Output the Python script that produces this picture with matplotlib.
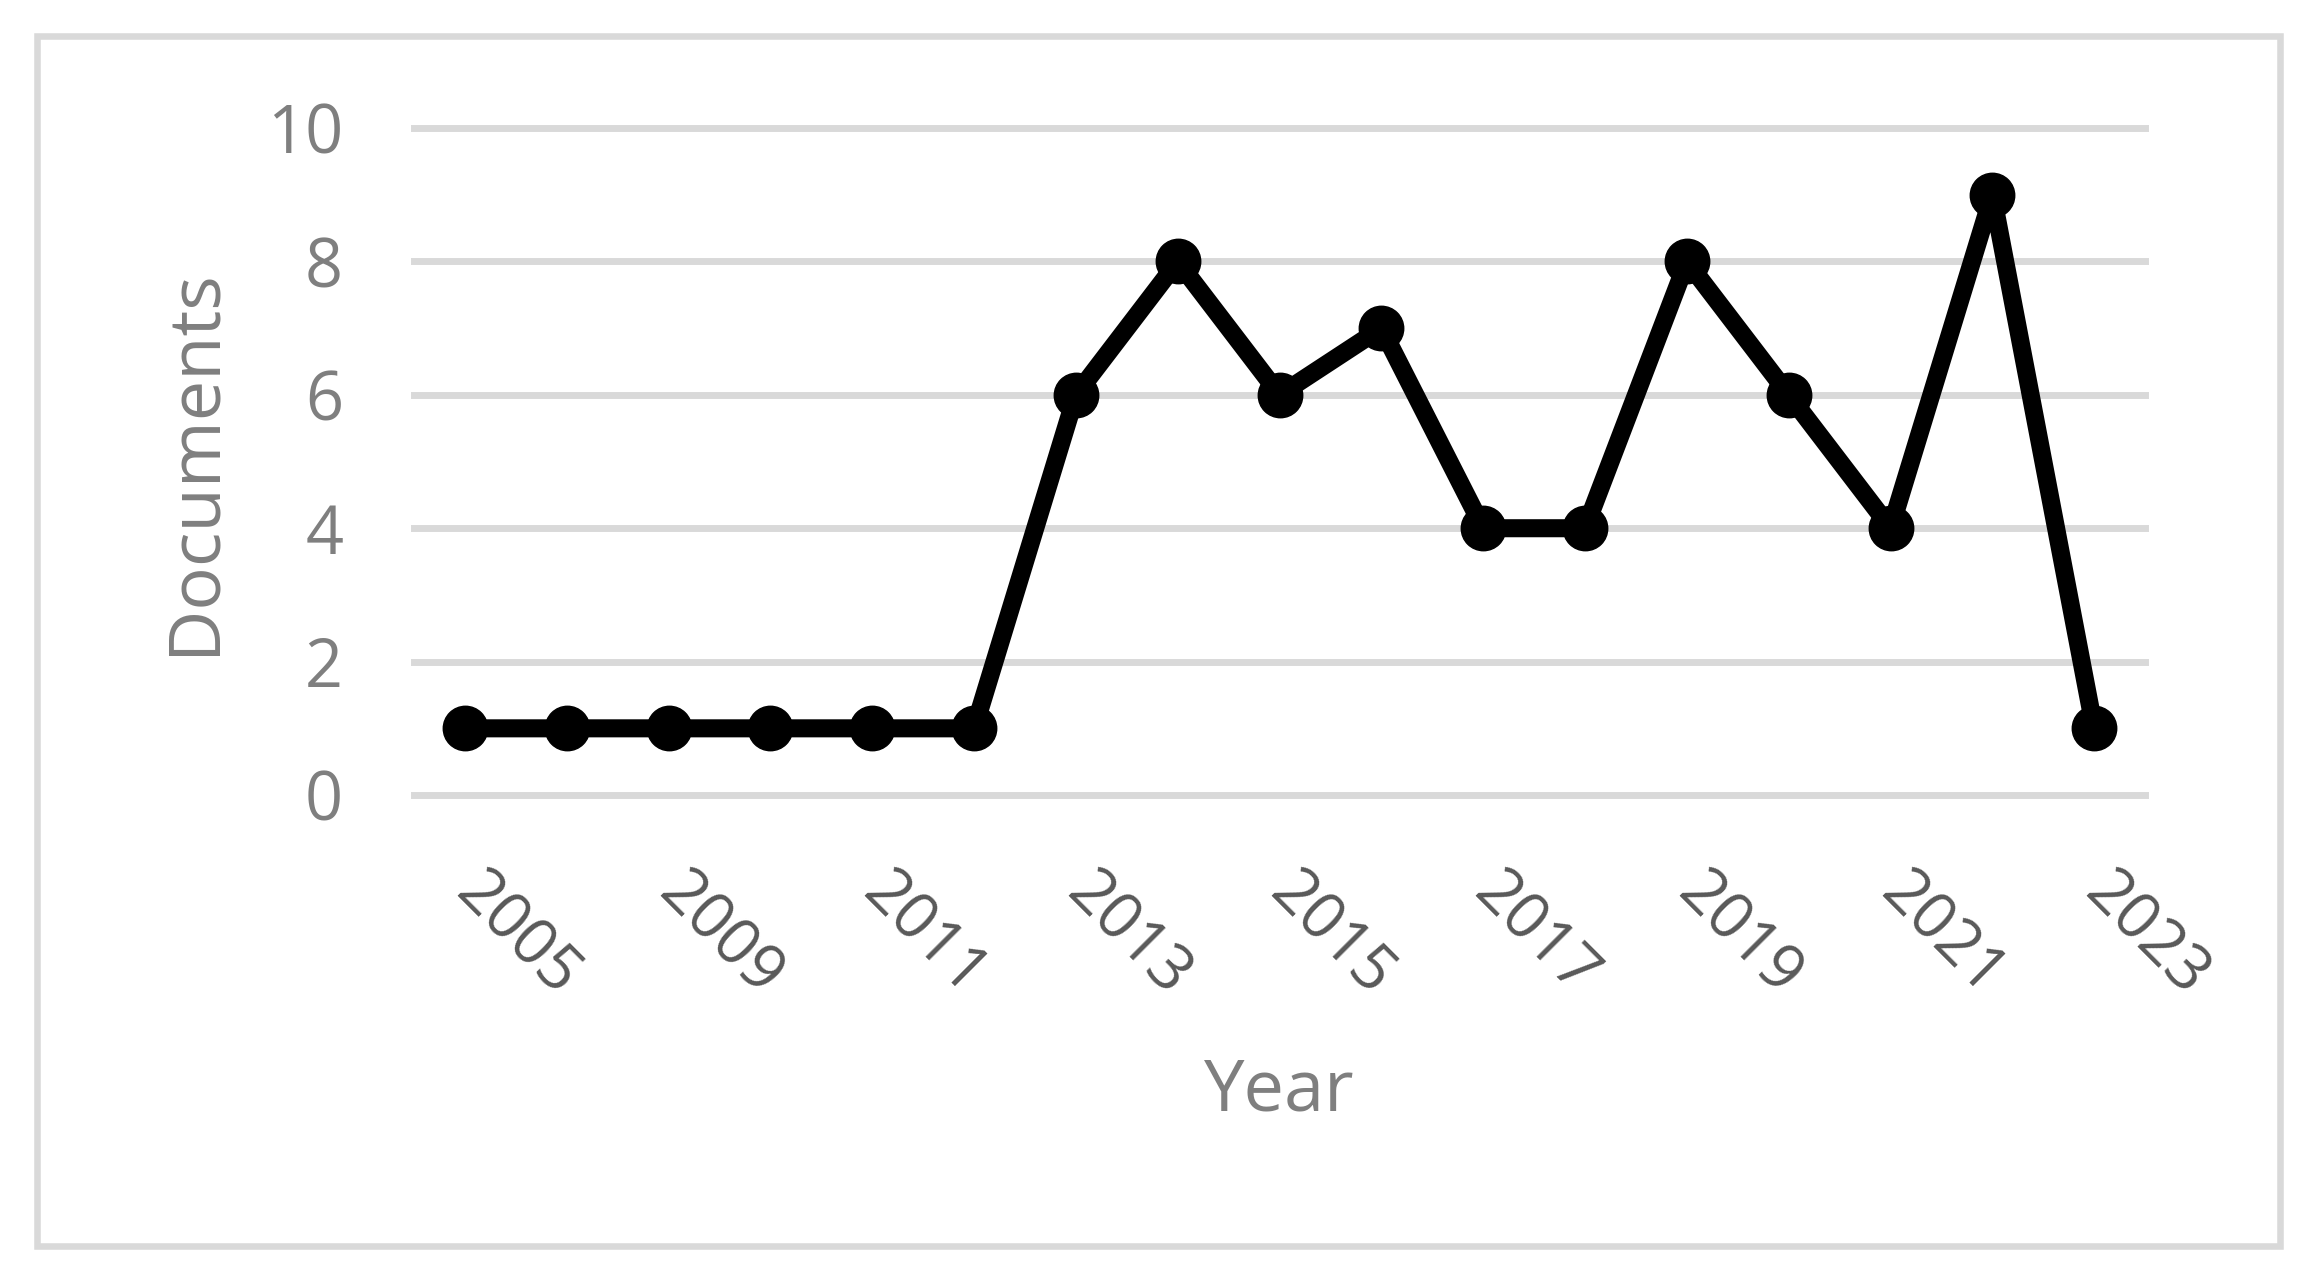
import matplotlib.pyplot as plt
from matplotlib.patches import Rectangle

# data
years = [2005, 2007, 2009, 2010, 2011, 2012, 2013, 2014, 2015, 2016,
         2017, 2018, 2019, 2020, 2021, 2022, 2023]
docs = [1, 1, 1, 1, 1, 1, 6, 8, 6, 7, 4, 4, 8, 6, 4, 9, 1]
yticks = [0, 2, 4, 6, 8, 10]

plt.rcParams['font.family'] = ['Open Sans', 'DejaVu Sans']

fig = plt.figure(figsize=(22.99, 12.79), dpi=100)
ax = fig.add_axes([0.1801, 0.3784, 0.7530, 0.5215])

# outer chart border (Excel chart area)
fig.patches.append(Rectangle((0.0163, 0.0258), 0.9754, 0.9461, transform=fig.transFigure,
                             fill=False, edgecolor='#D9D9D9', linewidth=4.7))

pos = list(range(len(years)))
ax.plot(pos, docs, color='black', linewidth=13, marker='o', markersize=32,
        solid_joinstyle='round', clip_on=False, zorder=3)

ax.set_xlim(-0.5, len(years) - 0.5)
ax.set_ylim(0, 10)
ax.set_yticks(yticks)
ax.set_yticklabels([str(v) for v in yticks])
ax.set_xticks(pos[::2])
ax.set_xticklabels([str(y) for y in years[::2]])

ax.grid(axis='y', color='#D9D9D9', linewidth=5)
for gl in ax.get_ygridlines():
    gl.set_clip_on(False)
ax.set_axisbelow(True)
for s in ax.spines.values():
    s.set_visible(False)

ax.tick_params(axis='y', length=0, pad=51, labelsize=48, labelcolor='#7F7F7F')
ax.tick_params(axis='x', length=0, pad=64, labelsize=46, labelcolor='#595959')
plt.setp(ax.get_xticklabels(), rotation=-45, ha='left', va='center', rotation_mode='anchor')

ax.set_ylabel('Documents', fontsize=52, color='#7F7F7F', va='center')
ax.yaxis.set_label_coords(-0.1265, 0.5)
ax.set_xlabel('Year', fontsize=52, color='#7F7F7F', va='center')
ax.xaxis.set_label_coords(0.5, -0.445)

fig.savefig('out.png', dpi=100)
